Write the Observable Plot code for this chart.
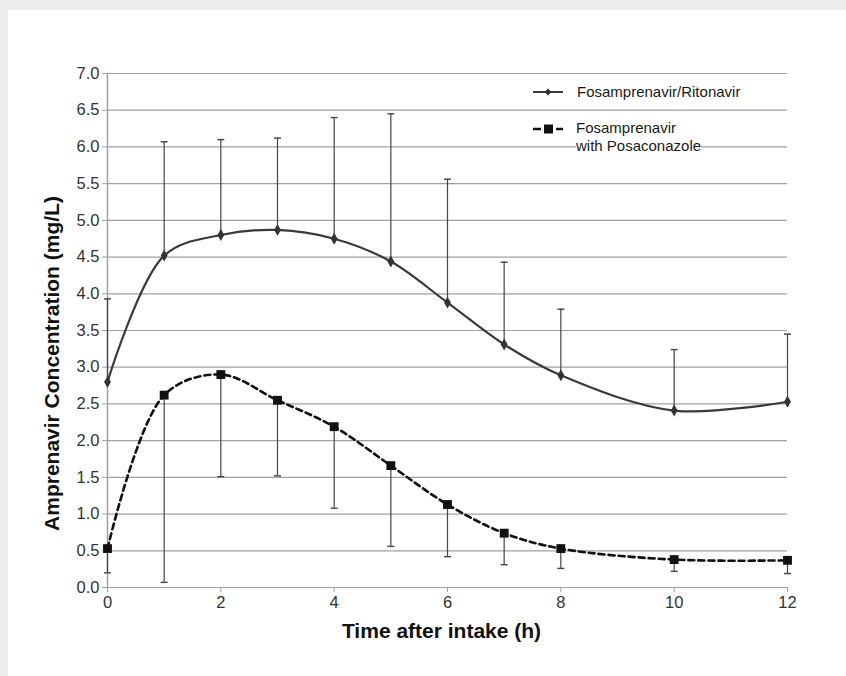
<!DOCTYPE html>
<html>
<head>
<meta charset="utf-8">
<script src="https://cdn.jsdelivr.net/npm/d3@7"></script>
<script src="https://cdn.jsdelivr.net/npm/@observablehq/plot@0.6"></script>
<style>
  html, body { margin: 0; padding: 0; }
  body { width: 846px; height: 676px; background: #ebeced; position: relative; overflow: hidden;
         font-family: "Liberation Sans", Arial, sans-serif; }
  #panel { position: absolute; left: 8px; top: 10px; width: 838px; height: 666px; background: #fff; }
  #legend { position: absolute; left: 0; top: 0; width: 846px; height: 676px; pointer-events: none; }
  .lg { position: absolute; font-size: 15px; color: #1a1a1a; line-height: 18px; white-space: nowrap; }
  .lg span { background: #fff; }
</style>
</head>
<body>
<div id="panel"></div>
<div id="legend">
  <svg style="position:absolute;left:528px;top:82px" width="40" height="60">
    <line x1="5" y1="10" x2="35" y2="10" stroke="#3a3a3a" stroke-width="2"/>
    <path d="M20,6.5 L23.5,10 L20,13.5 L16.5,10 Z" fill="#333"/>
    <line x1="5" y1="47" x2="13" y2="47" stroke="#111" stroke-width="2.5"/>
    <rect x="16" y="42.5" width="9" height="9" fill="#111"/>
    <line x1="28" y1="47" x2="35" y2="47" stroke="#111" stroke-width="2.5"/>
  </svg>
  <div class="lg" style="left:577px;top:83px"><span>Fosamprenavir/Ritonavir</span></div>
  <div class="lg" style="left:576px;top:119px"><span>Fosamprenavir</span><br><span>with Posaconazole</span></div>
</div>
<script>
const hours = [0, 1, 2, 3, 4, 5, 6, 7, 8, 10, 12];
const ritonavir = [2.80, 4.52, 4.80, 4.87, 4.75, 4.44, 3.88, 3.31, 2.89, 2.41, 2.53];
const ritonavirUpper = [3.93, 6.07, 6.10, 6.12, 6.40, 6.45, 5.56, 4.43, 3.79, 3.24, 3.45];
const posaconazole = [0.53, 2.62, 2.90, 2.55, 2.19, 1.66, 1.13, 0.74, 0.53, 0.38, 0.37];
const posaconazoleLower = [0.20, 0.07, 1.51, 1.52, 1.08, 0.56, 0.42, 0.31, 0.26, 0.22, 0.19];
const yTicks = [0, 0.5, 1, 1.5, 2, 2.5, 3, 3.5, 4, 4.5, 5, 5.5, 6, 6.5, 7];
const xTicks = [0, 2, 4, 6, 8, 10, 12];
const yTitle = "Amprenavir Concentration (mg/L)";
const xTitle = "Time after intake (h)";

const rit = hours.map((t, i) => ({t, v: ritonavir[i], hi: ritonavirUpper[i]}));
const pos = hours.map((t, i) => ({t, v: posaconazole[i], lo: posaconazoleLower[i]}));

const cap = {draw(ctx) { ctx.moveTo(-3.5, 0); ctx.lineTo(3.5, 0); }};

const chart = Plot.plot({
  width: 838,
  height: 666,
  marginLeft: 99,
  marginRight: 59,
  marginTop: 63,
  marginBottom: 89,
  style: {fontFamily: "Liberation Sans, Arial, sans-serif", background: "transparent", overflow: "visible"},
  x: {domain: [0, 12]},
  y: {domain: [0, 7]},
  marks: [
    Plot.ruleY(yTicks, {stroke: "#a0a0a0", strokeWidth: 1.2}),
    Plot.ruleX([0], {stroke: "#a0a0a0", strokeWidth: 1.5}),
    Plot.axisY(yTicks, {tickFormat: d3.format(".1f"), tickSize: 5, tickPadding: 3, fontSize: 16.5, color: "#333", stroke: "#a0a0a0", label: null}),
    Plot.axisX(xTicks, {tickSize: 5, tickPadding: 4, fontSize: 16.5, color: "#333", stroke: "#a0a0a0", label: null}),
    Plot.text([yTitle], {text: d => d, frameAnchor: "left", rotate: -90, dx: -55, dy: 33, textAnchor: "middle", lineAnchor: "middle",
      fontSize: 21, fontWeight: "bold", fill: "#111"}),
    Plot.text([xTitle], {text: d => d, frameAnchor: "bottom", dx: -6, dy: 44, textAnchor: "middle", lineAnchor: "middle",
      fontSize: 21, fontWeight: "bold", fill: "#111"}),
    Plot.ruleX(rit, {x: "t", y1: "v", y2: "hi", stroke: "#444", strokeWidth: 1.2}),
    Plot.dot(rit, {x: "t", y: "hi", symbol: cap, r: 1, stroke: "#444", strokeWidth: 1.4}),
    Plot.ruleX(pos, {x: "t", y1: "v", y2: "lo", stroke: "#444", strokeWidth: 1.2}),
    Plot.dot(pos, {x: "t", y: "lo", symbol: cap, r: 1, stroke: "#444", strokeWidth: 1.4}),
    Plot.line(rit, {x: "t", y: "v", curve: "catmull-rom", stroke: "#3a3a3a", strokeWidth: 2.2}),
    Plot.line(pos, {x: "t", y: "v", curve: "catmull-rom", stroke: "#111", strokeWidth: 2.6, strokeDasharray: "6,4"}),
    Plot.dot(rit, {x: "t", y: "v", symbol: "diamond", r: 3.6, fill: "#333"}),
    Plot.dot(pos, {x: "t", y: "v", symbol: "square", r: 5, fill: "#111"})
  ]
});
document.getElementById("panel").appendChild(chart);
</script>
</body>
</html>
